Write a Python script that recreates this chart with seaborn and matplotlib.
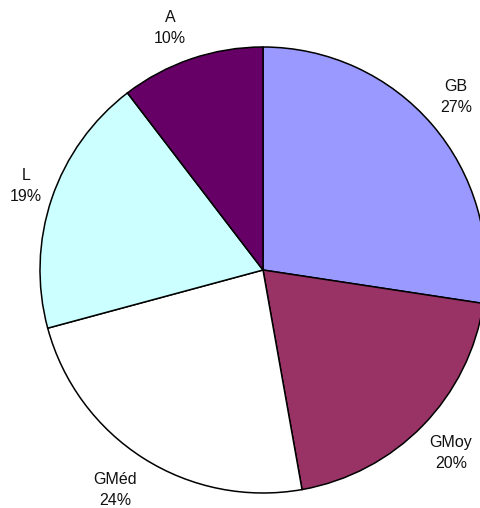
import numpy as np
import matplotlib
matplotlib.use("Agg")
import matplotlib.pyplot as plt
import seaborn as sns

# Share of each category (percent)
categories = ["GB", "GMoy", "GMéd", "L", "A"]
shares = [27.4, 19.8, 23.6, 18.8, 10.4]
colors = ["#9999FF", "#993366", "#FFFFFF", "#CCFFFF", "#660066"]

# Label anchor points, relative to the pie centre (in pixel units, y up)
label_pos = {
    "GB": (193, 173),
    "GMoy": (188, -183),
    "GMéd": (-148, -220),
    "L": (-237, 84),
    "A": (-93, 242),
}

sns.set_theme(style="white")
plt.rcParams["font.family"] = ["Liberation Sans", "DejaVu Sans"]

fig = plt.figure(figsize=(4.81, 5.08), dpi=100)
ax = fig.add_axes([0, 0, 1, 1])
ax.set_axis_off()

radius = 223
wedges, _ = ax.pie(
    shares,
    colors=sns.color_palette(colors),
    startangle=90,
    counterclock=False,
    radius=radius,
    center=(0, 0),
    wedgeprops=dict(edgecolor="black", linewidth=1.1),
    frame=False,
)

total = sum(shares)
for name, val in zip(categories, shares):
    x, y = label_pos[name]
    ax.text(x, y, f"{name}\n{val / total * 100:.0f}%",
            ha="center", va="center", fontsize=11.5, color="#111111",
            linespacing=1.45)

ax.set_aspect("equal")
ax.set_xlim(-263, 218)
ax.set_ylim(-238, 270)

fig.savefig("out.png", dpi=100, facecolor="white")
